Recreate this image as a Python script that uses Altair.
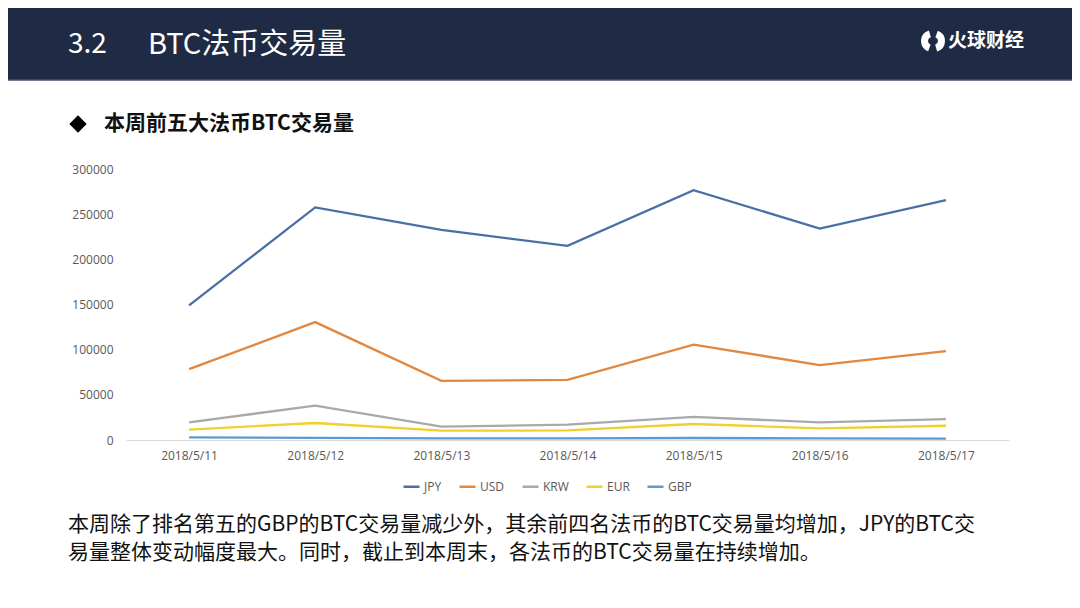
import altair as alt
import pandas as pd

# ---------------- data ----------------
dates = ["2018/5/11", "2018/5/12", "2018/5/13", "2018/5/14", "2018/5/15", "2018/5/16", "2018/5/17"]
currencies = ["JPY", "USD", "KRW", "EUR", "GBP"]
jpy = [149000, 257500, 232500, 215000, 276500, 234000, 265500]
usd = [78500, 130500, 65500, 66500, 105500, 83000, 98500]
krw = [19500, 38000, 14700, 17000, 25500, 19500, 23000]
eur = [11500, 18800, 10300, 10600, 17700, 12900, 15800]
gbp = [2900, 2400, 1800, 1800, 2200, 1700, 1600]
colors = ["#4a6fa5", "#e2873f", "#a9a9a9", "#f2cf2a", "#5b9bd5"]
y_ticks = [0, 50000, 100000, 150000, 200000, 250000, 300000]

header_title_num = "3.2"
header_title = "BTC法币交易量"
logo_text = "火球财经"
subtitle = "本周前五大法币BTC交易量"
body_line1 = "本周除了排名第五的GBP的BTC交易量减少外，其余前四名法币的BTC交易量均增加，JPY的BTC交"
body_line2 = "易量整体变动幅度最大。同时，截止到本周末，各法币的BTC交易量在持续增加。"

series = {"JPY": jpy, "USD": usd, "KRW": krw, "EUR": eur, "GBP": gbp}
rows = []
for cur in currencies:
    for d, v in zip(dates, series[cur]):
        rows.append({"date": d, "currency": cur, "value": v})
df = pd.DataFrame(rows)

# ---------------- layout (canvas coords = page coords - 8) ----------------
CW, CH = 1064, 592
PL, PT = 118, 161          # plot origin on canvas
PW, PH = 883, 271          # plot size

def cx(x):  # canvas x -> plot-relative
    return x - PL

def cy(y):
    return y - PT

one = pd.DataFrame({"a": [0]})
CJK = "Noto Sans CJK SC"
LAT = "Open Sans"

# ---------------- main lines ----------------
lines = alt.Chart(df).mark_line(strokeWidth=2.3).encode(
    x=alt.X("date:N", sort=dates, title=None,
            scale=alt.Scale(paddingInner=0, paddingOuter=0.5),
            axis=alt.Axis(labelAngle=0, ticks=False, domainColor="#d9d9d9",
                          domainWidth=1, labelPadding=10, labelFont=LAT,
                          labelFontSize=12, labelColor="#595959", grid=False)),
    y=alt.Y("value:Q", title=None,
            scale=alt.Scale(domain=[0, 300000], nice=False),
            axis=alt.Axis(values=y_ticks, format="d", ticks=False, domain=False,
                          grid=False, labelPadding=13, labelFont=LAT,
                          labelFontSize=12, labelColor="#595959")),
    color=alt.Color("currency:N", sort=currencies,
                    scale=alt.Scale(domain=currencies, range=colors),
                    legend=alt.Legend(title=None, orient="none", direction="horizontal",
                                      legendX=276, legendY=308, symbolType="stroke",
                                      symbolSize=256, symbolStrokeWidth=2.5,
                                      labelFont=LAT, labelFontSize=12,
                                      labelColor="#595959", labelOffset=3,
                                      columnPadding=12)),
    order=alt.Order("date:N"),
)

# ---------------- decorations ----------------
header = alt.Chart(one).mark_rect(color="#1f2a44").encode(
    x=alt.value(cx(0)), x2=alt.value(cx(CW)),
    y=alt.value(cy(0)), y2=alt.value(cy(72)),
)
header_line = alt.Chart(one).mark_rule(color="#4b5270", strokeWidth=1.5).encode(
    x=alt.value(cx(0)), x2=alt.value(cx(CW)), y=alt.value(cy(72)),
)

t_num = alt.Chart(one).mark_text(text=header_title_num, font=CJK, fontSize=28,
                                 color="white", align="left", baseline="middle").encode(
    x=alt.value(cx(60)), y=alt.value(cy(37)))
t_title = alt.Chart(one).mark_text(text=header_title, font=CJK, fontSize=29,
                                   color="white", align="left", baseline="middle").encode(
    x=alt.value(cx(140)), y=alt.value(cy(37)))

logo_arc1 = alt.Chart(one).mark_arc(color="white", radius=11, radius2=4,
                                    theta=3.5, theta2=6.0).encode(
    x=alt.value(cx(924)), y=alt.value(cy(33)))
logo_arc2 = alt.Chart(one).mark_arc(color="white", radius=11, radius2=4,
                                    theta=0.35, theta2=2.85).encode(
    x=alt.value(cx(926)), y=alt.value(cy(33)))
logo = alt.Chart(one).mark_text(text=logo_text, font=CJK, fontSize=19, fontWeight="bold",
                                color="white", align="left", baseline="middle").encode(
    x=alt.value(cx(940)), y=alt.value(cy(33)))

diamond = alt.Chart(one).mark_point(shape="diamond", filled=True, color="black",
                                    size=300, opacity=1).encode(
    x=alt.value(cx(70)), y=alt.value(cy(116)))
sub = alt.Chart(one).mark_text(text=subtitle, font=CJK, fontSize=21, fontWeight="bold",
                               color="#111111", align="left", baseline="middle").encode(
    x=alt.value(cx(96)), y=alt.value(cy(116)))

body1 = alt.Chart(one).mark_text(text=body_line1, font=CJK, fontSize=21,
                                 color="#111111", align="left", baseline="middle").encode(
    x=alt.value(cx(60)), y=alt.value(cy(517)))
body2 = alt.Chart(one).mark_text(text=body_line2, font=CJK, fontSize=21,
                                 color="#111111", align="left", baseline="middle").encode(
    x=alt.value(cx(60)), y=alt.value(cy(545)))

chart = alt.layer(
    header, header_line, t_num, t_title, logo_arc1, logo_arc2, logo,
    diamond, sub, lines, body1, body2,
).properties(
    width=PW, height=PH,
    padding={"left": PL, "top": PT, "right": CW - PL - PW, "bottom": CH - PT - PH},
    autosize=alt.AutoSizeParams(type="none"),
    background="white",
).configure_view(stroke=None)

chart.save("out.html", embed_options={"renderer": "svg", "actions": False})
